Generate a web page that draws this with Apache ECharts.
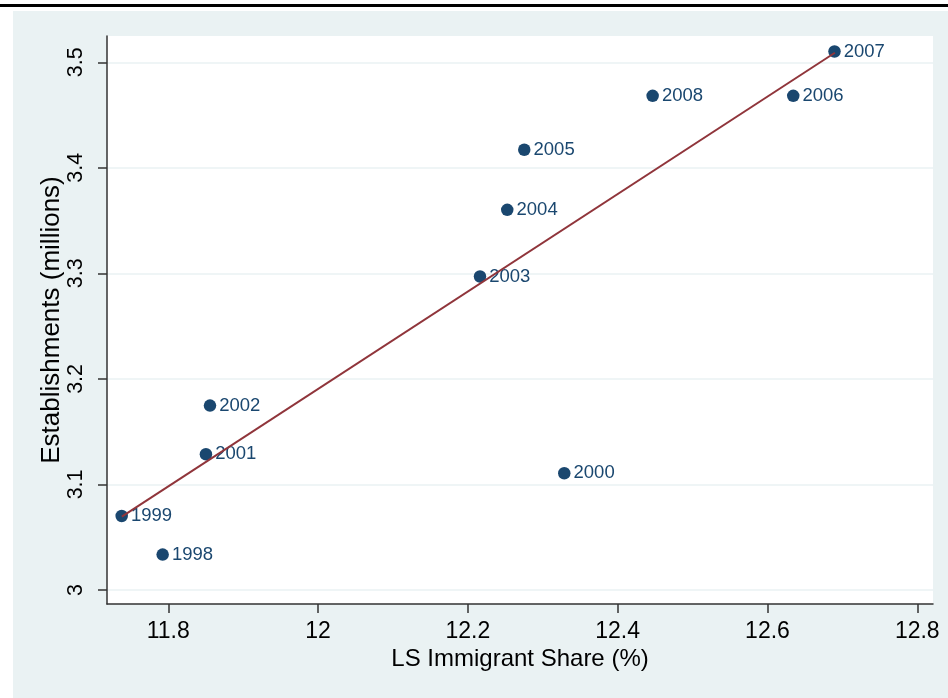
<!DOCTYPE html>
<html>
<head>
<meta charset="utf-8">
<script src="https://cdn.jsdelivr.net/npm/echarts@6/dist/echarts.min.js"></script>
<style>
  html, body { margin: 0; padding: 0; background: #fff; }
  #chart { width: 948px; height: 698px; }
</style>
</head>
<body>
<div id="chart"></div>
<script>
  // data
  const years = ['1998', '1999', '2000', '2001', '2002', '2003', '2004', '2005', '2006', '2007', '2008']
  const immigrantShare = [11.7925, 11.7378, 12.3287, 11.8503, 11.8557, 12.2162, 12.2526, 12.2753, 12.6344, 12.6895, 12.4467]
  const establishments = [3.0335, 3.0701, 3.1106, 3.1286, 3.1747, 3.2970, 3.3602, 3.4171, 3.4682, 3.5102, 3.4682]
  // fitted line end points
  const fitX = [11.738, 12.690]
  const fitY = [3.0695, 3.509]
  const xTicks = [11.8, 12, 12.2, 12.4, 12.6, 12.8]
  const yTicks = [3, 3.1, 3.2, 3.3, 3.4, 3.5]

  const COLOR = {
    bg: '#eaf2f3', dot: '#1a476f', fit: '#90353b', axis: '#333333', text: '#000000'
  }
  const FONT = 'Liberation Sans, Arial, sans-serif'

  let chart = echarts.init(document.getElementById('chart'))

  let points = years.map((y, i) => [immigrantShare[i], establishments[i], y])
  let fitLine = fitX.map((x, i) => [x, fitY[i]])

  let option = {
    animation: false,
    backgroundColor: '#ffffff',
    graphic: [
      // 顶部黑线
      { type: 'rect', z: -100, shape: { x: 0, y: 4, width: 948, height: 3 }, style: { fill: '#000' } },
      // 外层底色
      { type: 'rect', z: -100, shape: { x: 13, y: 11, width: 935, height: 687 }, style: { fill: COLOR.bg } }
    ],
    grid: {
      left: 107, top: 36, right: 15, bottom: 94,
      show: true, backgroundColor: '#ffffff', borderWidth: 0
    },
    xAxis: {
      type: 'value',
      min: 11.7182, max: 12.821,
      name: 'LS Immigrant Share (%)',
      nameLocation: 'middle',
      nameGap: 43,
      nameMoveOverlap: false,
      nameTextStyle: { fontFamily: FONT, fontSize: 24, color: COLOR.text },
      axisLine: { show: true, onZero: false, lineStyle: { color: COLOR.axis, width: 1.5 } },
      axisTick: { show: true, length: 9, customValues: xTicks, lineStyle: { color: COLOR.axis, width: 1.5 } },
      axisLabel: {
        customValues: xTicks, margin: 16,
        fontFamily: FONT, fontSize: 23, color: COLOR.text,
        formatter: v => String(+v.toFixed(1))
      },
      splitLine: { show: false }
    },
    yAxis: {
      type: 'value',
      min: 2.9867, max: 3.5249,
      name: 'Establishments (millions)',
      nameLocation: 'middle',
      nameGap: 42,
      nameMoveOverlap: false,
      nameTextStyle: { fontFamily: FONT, fontSize: 26, color: COLOR.text },
      axisLine: { show: true, onZero: false, lineStyle: { color: COLOR.axis, width: 1.5 } },
      axisTick: { show: true, length: 9, customValues: yTicks, lineStyle: { color: COLOR.axis, width: 1.5 } },
      axisLabel: {
        customValues: yTicks, margin: 20, rotate: 90,
        fontFamily: FONT, fontSize: 21.5, color: COLOR.text,
        formatter: v => String(+v.toFixed(1))
      },
      splitLine: { show: true, lineStyle: { color: COLOR.bg, width: 1.5 } }
    },
    series: [
      {
        name: 'points',
        type: 'scatter',
        data: points,
        symbolSize: 12.5,
        z: 2,
        itemStyle: { color: COLOR.dot, opacity: 1 },
        label: {
          show: true, position: 'right', distance: 3,
          formatter: p => p.data[2],
          fontFamily: FONT, fontSize: 18.5, color: COLOR.dot
        }
      },
      {
        name: 'fit',
        type: 'line',
        data: fitLine,
        symbol: 'none',
        z: 3,
        lineStyle: { color: COLOR.fit, width: 2 }
      }
    ]
  }
  chart.setOption(option)
</script>
</body>
</html>
